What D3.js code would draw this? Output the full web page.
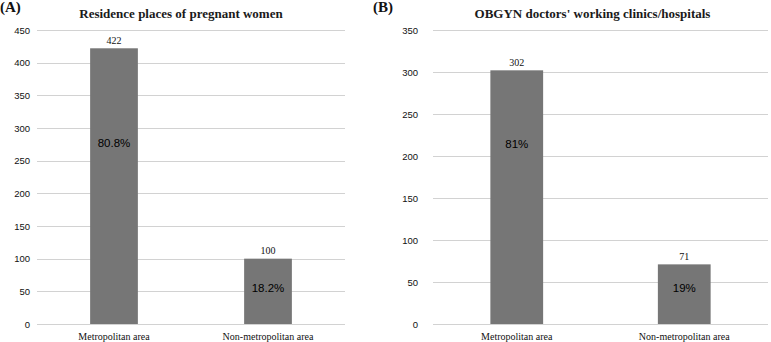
<!DOCTYPE html>
<html>
<head>
<meta charset="utf-8">
<script src="https://cdn.jsdelivr.net/npm/d3@7"></script>
<style>
  body { margin: 0; background: #fff; }
  svg { display: block; }
</style>
</head>
<body>
<div id="chart"></div>
<script>
// values
var categories = ["Metropolitan area", "Non-metropolitan area"];

var womenCounts = [422, 100];
var womenShares = ["80.8%", "18.2%"];
var womenTicks = [0, 50, 100, 150, 200, 250, 300, 350, 400, 450];

var doctorCounts = [302, 71];
var doctorShares = ["81%", "19%"];
var doctorTicks = [0, 50, 100, 150, 200, 250, 300, 350];

var W = 771, H = 342;
var svg = d3.select("#chart").append("svg").attr("width", W).attr("height", H);

// one panel = one small bar chart, layout numbers
function drawPanel(p) {
  var x = d3.scaleBand().domain(categories).range([p.left, p.right])
            .paddingInner(p.pad).paddingOuter(p.pad / 2);
  var y = d3.scaleLinear().domain([0, d3.max(p.ticks)]).range([324, 30]);

  var g = svg.append("g");

  // horizontal gridlines
  g.selectAll("line.grid").data(p.ticks).enter().append("line")
    .attr("class", "grid")
    .attr("x1", p.left).attr("x2", p.right)
    .attr("y1", function(d){ return Math.round(y(d)) + 0.5; })
    .attr("y2", function(d){ return Math.round(y(d)) + 0.5; })
    .attr("stroke", "#d2d2d2").attr("stroke-width", 1.2);

  // y axis labels only (no domain line, no ticks)
  var yAxis = d3.axisLeft(y).tickValues(p.ticks).tickSize(0).tickPadding(0);
  var ya = g.append("g").attr("transform", "translate(" + p.labelRight + ",0)").call(yAxis);
  ya.select(".domain").remove();
  ya.selectAll("text").attr("font-family", "Liberation Sans, Arial, sans-serif")
    .attr("font-size", 9.5).attr("fill", "#111").attr("dy", "0.34em");

  // bars
  g.selectAll("rect").data(p.counts).enter().append("rect")
    .attr("x", function(d, i){ return x(categories[i]); })
    .attr("width", x.bandwidth())
    .attr("y", function(d){ return y(d); })
    .attr("height", function(d){ return y(0) - y(d); })
    .attr("fill", "#767676");

  // counts above bars
  g.selectAll("text.count").data(p.counts).enter().append("text")
    .attr("class", "count")
    .attr("x", function(d, i){ return x(categories[i]) + x.bandwidth() / 2; })
    .attr("y", function(d){ return y(d) - 4.5; })
    .attr("text-anchor", "middle")
    .attr("font-family", "Liberation Serif, Times New Roman, serif")
    .attr("font-size", 10).attr("fill", "#111")
    .text(function(d){ return d; });

  // percentage inside the bars (placed by hand in the original)
  g.selectAll("text.share").data(p.shares).enter().append("text")
    .attr("class", "share")
    .attr("x", function(d, i){ return x(categories[i]) + x.bandwidth() / 2; })
    .attr("y", function(d, i){ return y(p.shareAt[i]); })
    .attr("dy", "0.36em")
    .attr("text-anchor", "middle")
    .attr("font-family", "Liberation Sans, Arial, sans-serif")
    .attr("font-size", 11.5).attr("fill", "#000")
    .text(function(d){ return d; });

  // category labels
  var xAxis = d3.axisBottom(x).tickSize(0).tickPadding(0);
  var xa = g.append("g").attr("transform", "translate(0,337)").call(xAxis);
  xa.select(".domain").remove();
  xa.selectAll("text").attr("font-family", "Liberation Serif, Times New Roman, serif")
    .attr("font-size", 10).attr("fill", "#111").attr("dy", "0.32em");

  // title and panel letter
  g.append("text")
    .attr("x", p.titleX).attr("y", 18)
    .attr("text-anchor", "middle")
    .attr("font-family", "Liberation Serif, Times New Roman, serif")
    .attr("font-weight", "bold").attr("font-size", 13).attr("fill", "#1a1a1a")
    .text(p.title);

  g.append("text")
    .attr("x", p.letterX).attr("y", 12)
    .attr("font-family", "Liberation Serif, Times New Roman, serif")
    .attr("font-weight", "bold").attr("font-size", 15).attr("fill", "#111")
    .text(p.letter);
}

drawPanel({
  title: "Residence places of pregnant women", letter: "(A)",
  counts: womenCounts, shares: womenShares, ticks: womenTicks,
  shareAt: [277, 55],
  left: 37, right: 345, labelRight: 30, pad: 0.69,
  titleX: 181, letterX: 0
});

drawPanel({
  title: "OBGYN doctors' working clinics/hospitals", letter: "(B)",
  counts: doctorCounts, shares: doctorShares, ticks: doctorTicks,
  shareAt: [215, 43],
  left: 433, right: 768, labelRight: 418, pad: 0.685,
  titleX: 592.5, letterX: 373
});
</script>
</body>
</html>
